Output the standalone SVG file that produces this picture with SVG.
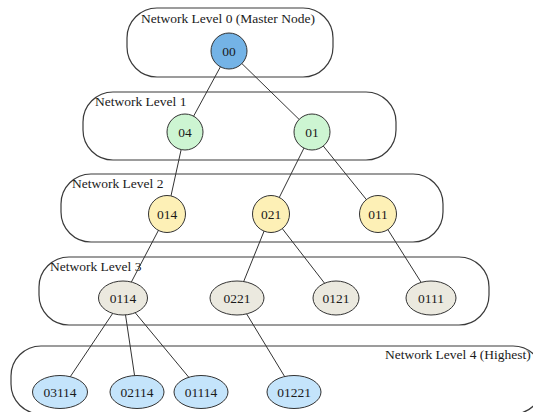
<svg xmlns="http://www.w3.org/2000/svg" width="533" height="412" viewBox="0 0 533 412">
<style>
.box{fill:none;stroke:#3a3a3a;stroke-width:1.2}
.lbl{font-family:"Liberation Serif","Times New Roman",serif;font-size:13.5px;fill:#1a1a1a}
.nt{font-family:"Liberation Serif","Times New Roman",serif;font-size:13.5px;fill:#1a1a1a;text-anchor:middle;dominant-baseline:central}
.edge{stroke:#333;stroke-width:1;fill:none}
.n{stroke:#333;stroke-width:1}
.l0{fill:#74b3e6}.l1{fill:#cdf5d2}.l2{fill:#fdf0b6}.l3{fill:#ebe9df}.l4{fill:#c4e4fb}
</style>
<rect width="533" height="412" fill="#fff"/>
<g id="levels">
<g id="level0"><rect class="box" x="127" y="8" width="206" height="69" rx="30"/><text class="lbl" x="141" y="23">Network Level 0 (Master Node)</text></g>
<g id="level1"><rect class="box" x="83" y="92" width="313" height="68" rx="30"/><text class="lbl" x="95" y="106">Network Level 1</text></g>
<g id="level2"><rect class="box" x="61" y="174" width="382" height="68" rx="30"/><text class="lbl" x="72" y="188">Network Level 2</text></g>
<g id="level3"><rect class="box" x="39" y="257" width="450" height="68" rx="30"/><text class="lbl" x="50" y="271">Network Level 3</text></g>
<g id="level4"><rect class="box" x="11" y="346" width="532" height="68" rx="30"/><text class="lbl" x="385" y="359">Network Level 4 (Highest)</text></g>
</g>
<g id="connectors">
<line class="edge" x1="229" y1="51" x2="185" y2="132"/>
<line class="edge" x1="229" y1="51" x2="312" y2="132"/>
<line class="edge" x1="185" y1="132" x2="167" y2="214"/>
<line class="edge" x1="312" y1="132" x2="271" y2="214"/>
<line class="edge" x1="312" y1="132" x2="378" y2="214"/>
<line class="edge" x1="167" y1="214" x2="123" y2="298"/>
<line class="edge" x1="271" y1="214" x2="237" y2="298"/>
<line class="edge" x1="271" y1="214" x2="336" y2="298"/>
<line class="edge" x1="378" y1="214" x2="431" y2="298"/>
<line class="edge" x1="123" y1="298" x2="60" y2="392"/>
<line class="edge" x1="123" y1="298" x2="137" y2="392"/>
<line class="edge" x1="123" y1="298" x2="201" y2="392"/>
<line class="edge" x1="237" y1="298" x2="294" y2="392"/>
</g>
<g id="n00"><circle class="n l0" cx="229" cy="51" r="18"/><text class="nt" x="229" y="51">00</text></g>
<g id="n04"><circle class="n l1" cx="185" cy="132" r="18"/><text class="nt" x="185" y="132">04</text></g>
<g id="n01"><circle class="n l1" cx="312" cy="132" r="18"/><text class="nt" x="312" y="132">01</text></g>
<g id="n014"><circle class="n l2" cx="167" cy="214" r="18.5"/><text class="nt" x="167" y="214">014</text></g>
<g id="n021"><circle class="n l2" cx="271" cy="214" r="18.5"/><text class="nt" x="271" y="214">021</text></g>
<g id="n011"><circle class="n l2" cx="378" cy="214" r="18.5"/><text class="nt" x="378" y="214">011</text></g>
<g id="n0114"><ellipse class="n l3" cx="123" cy="298" rx="24.5" ry="17"/><text class="nt" x="123" y="298">0114</text></g>
<g id="n0221"><ellipse class="n l3" cx="237" cy="298" rx="27" ry="17"/><text class="nt" x="237" y="298">0221</text></g>
<g id="n0121"><ellipse class="n l3" cx="336" cy="298" rx="23" ry="17"/><text class="nt" x="336" y="298">0121</text></g>
<g id="n0111"><ellipse class="n l3" cx="431" cy="298" rx="25" ry="17"/><text class="nt" x="431" y="298">0111</text></g>
<g id="n03114"><ellipse class="n l4" cx="60" cy="392" rx="27.5" ry="16.5"/><text class="nt" x="60" y="392">03114</text></g>
<g id="n02114"><ellipse class="n l4" cx="137" cy="392" rx="27" ry="16.5"/><text class="nt" x="137" y="392">02114</text></g>
<g id="n01114"><ellipse class="n l4" cx="201" cy="392" rx="27" ry="16.5"/><text class="nt" x="201" y="392">01114</text></g>
<g id="n01221"><ellipse class="n l4" cx="294" cy="392" rx="27" ry="16.5"/><text class="nt" x="294" y="392">01221</text></g>
</svg>
